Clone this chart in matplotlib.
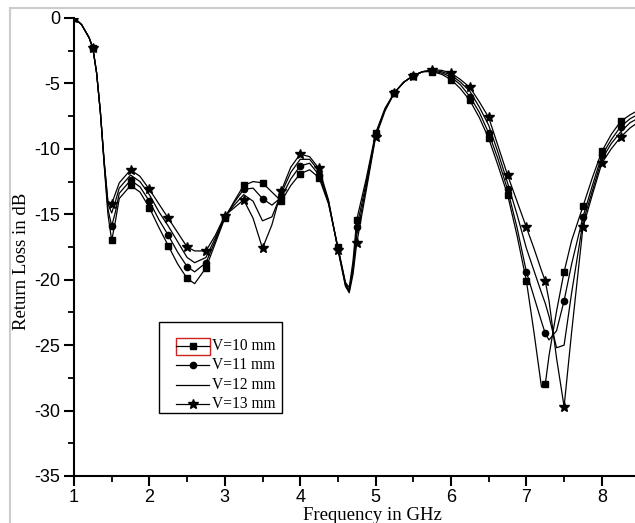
import matplotlib
matplotlib.use("Agg")
import matplotlib.pyplot as plt
from matplotlib.lines import Line2D
from matplotlib.patches import Rectangle
from matplotlib.ticker import MultipleLocator, FixedLocator

plt.rcParams["axes.unicode_minus"] = False

freq = [1.0, 1.1, 1.2, 1.25, 1.3, 1.35, 1.4, 1.45, 1.5, 1.55, 1.6, 1.75, 1.875,
        2.0, 2.125, 2.25, 2.375, 2.5, 2.6, 2.75, 2.875, 3.0, 3.125, 3.25, 3.375,
        3.5, 3.625, 3.75, 3.875, 4.0, 4.125, 4.25, 4.375, 4.5, 4.6, 4.65, 4.7,
        4.75, 4.875, 5.0, 5.125, 5.25, 5.375, 5.5, 5.625, 5.75, 5.875, 6.0,
        6.125, 6.25, 6.375, 6.5, 6.625, 6.75, 6.875, 7.0, 7.1, 7.2, 7.25, 7.3,
        7.4, 7.5, 7.6, 7.75, 7.875, 8.0, 8.125, 8.25, 8.375, 8.5]

v10 = [0, -0.5, -1.5, -2.3, -4.2, -7.2, -11.2, -15.0, -17.0, -15.5, -13.8, -12.8, -13.3,
       -14.5, -16.0, -17.4, -18.8, -19.9, -20.3, -19.1, -17.2, -15.3, -14.0, -12.8, -12.5,
       -12.6, -13.3, -14.0, -12.8, -11.9, -11.6, -12.2, -14.2, -17.5, -20.2, -20.6, -18.6,
       -15.4, -12.3, -8.8, -6.9, -5.7, -4.9, -4.4, -4.1, -4.1, -4.3, -4.7,
       -5.4, -6.3, -7.6, -9.2, -11.3, -13.5, -16.6, -20.1, -24.0, -28.2, -28.0, -25.8,
       -22.4, -19.4, -17.0, -14.4, -12.2, -10.2, -8.9, -7.9, -7.4, -7.0]

v11 = [0, -0.5, -1.5, -2.3, -4.2, -7.2, -11.1, -14.6, -15.9, -14.8, -13.4, -12.4, -12.9,
       -14.0, -15.4, -16.6, -17.9, -19.0, -19.4, -18.7, -17.0, -15.2, -14.1, -13.1, -13.0,
       -13.8, -14.3, -13.7, -12.3, -11.3, -11.1, -12.0, -14.1, -17.6, -20.3, -20.8, -19.0,
       -16.0, -12.6, -8.9, -7.0, -5.7, -4.9, -4.4, -4.1, -4.05, -4.2, -4.5,
       -5.1, -6.0, -7.2, -8.8, -10.8, -13.1, -16.0, -19.4, -21.3, -23.2, -24.1, -24.6,
       -23.9, -21.6, -18.8, -15.2, -12.8, -10.5, -9.3, -8.3, -7.7, -7.3]

v12 = [0, -0.5, -1.5, -2.3, -4.2, -7.2, -11.0, -14.2, -14.9, -14.0, -13.0, -12.0, -12.5,
       -13.5, -14.8, -15.9, -17.1, -18.3, -18.7, -18.3, -16.8, -15.2, -14.3, -13.5, -14.0,
       -15.5, -15.2, -13.4, -11.8, -10.8, -10.8, -11.7, -14.0, -17.6, -20.4, -20.9, -19.3,
       -16.6, -12.9, -9.0, -7.0, -5.7, -4.9, -4.4, -4.1, -4.0, -4.1, -4.35,
       -4.9, -5.6, -6.8, -8.2, -10.3, -12.6, -15.0, -17.6, -19.3, -21.0, -21.8, -22.8,
       -25.2, -25.0, -21.0, -15.6, -13.2, -10.8, -9.6, -8.7, -8.0, -7.6]

v13 = [0, -0.5, -1.5, -2.3, -4.2, -7.2, -10.9, -14.0, -14.2, -13.4, -12.6, -11.6, -12.1,
       -13.1, -14.2, -15.3, -16.4, -17.5, -17.8, -17.8, -16.6, -15.1, -14.5, -13.9, -15.3,
       -17.6, -15.8, -13.2, -11.4, -10.4, -10.6, -11.5, -13.9, -17.7, -20.5, -21.0, -19.6,
       -17.2, -13.2, -9.1, -7.1, -5.7, -4.9, -4.4, -4.1, -3.95, -4.0, -4.2,
       -4.7, -5.3, -6.4, -7.6, -9.8, -12.0, -14.0, -16.0, -17.6, -19.3, -20.1, -21.6,
       -26.0, -29.7, -24.0, -16.0, -13.5, -11.1, -10.0, -9.1, -8.4, -7.9]

xticks = [1, 2, 3, 4, 5, 6, 7, 8]
yticks = [0, -5, -10, -15, -20, -25, -30, -35]
labels = ["V=10 mm", "V=11 mm", "V=12 mm", "V=13 mm"]
markers = ["s", "o", None, "*"]
msizes = [4, 4.5, 0, 7]

W, H = 635, 523
fig = plt.figure(figsize=(W / 100, H / 100), dpi=100)
x0, x1 = 74, 74 + 8 * 75.4
y0, y1 = 476, 18
ax = fig.add_axes([x0 / W, 1 - y0 / H, (x1 - x0) / W, (y0 - y1) / H])

mark_idx = [i for i, f in enumerate(freq) if abs(f * 4 - round(f * 4)) < 1e-9]

for vals, lab, mk, ms in zip([v10, v11, v12, v13], labels, markers, msizes):
    if mk is None:
        ax.plot(freq, vals, color="black", lw=0.9, label=lab)
    else:
        ax.plot(freq, vals, color="black", lw=0.9, marker=mk, ms=ms,
                markevery=mark_idx, label=lab)

ax.set_xlim(1, 9)
ax.set_ylim(-35, 0)
ax.xaxis.set_major_locator(FixedLocator(xticks))
ax.xaxis.set_minor_locator(FixedLocator([x + 0.5 for x in xticks]))
ax.yaxis.set_major_locator(FixedLocator(yticks))
ax.yaxis.set_minor_locator(MultipleLocator(2.5))
ax.spines["top"].set_visible(False)
ax.spines["right"].set_visible(False)
for s in ("left", "bottom"):
    ax.spines[s].set_linewidth(1.5)
ax.tick_params(which="major", direction="out", length=7, width=1.5,
               labelsize=13, pad=3)
ax.tick_params(axis="x", which="major", pad=2)
ax.tick_params(which="minor", direction="out", length=4, width=1.3)
for lbl in ax.get_xticklabels() + ax.get_yticklabels():
    lbl.set_family(["Liberation Sans", "DejaVu Sans"])

fig.text(372 / W, 1 - 515 / H, "Frequency in GHz", ha="center", va="center",
         family=["Liberation Serif", "DejaVu Serif"], fontsize=13.5)
fig.text(22 / W, 1 - 261 / H, "Return Loss in dB", ha="center", va="center",
         rotation=90, family=["Liberation Serif", "DejaVu Serif"], fontsize=13.5)

# legend drawn by hand to match the reference box
fig.patches.append(Rectangle((159 / W, 1 - 413 / H), 123 / W, 91 / H, fill=False,
                             edgecolor="black", lw=1.0, transform=fig.transFigure))
rows = [346, 365, 385, 404]
for lab, mk, ms, yy in zip(labels, markers, msizes, rows):
    yf = 1 - yy / H
    fig.lines.append(Line2D([176 / W, 209 / W], [yf, yf], color="black", lw=0.9,
                            transform=fig.transFigure))
    if mk is not None:
        fig.lines.append(Line2D([192.5 / W], [yf], color="black", marker=mk, ms=ms,
                                lw=0, transform=fig.transFigure))
    fig.text(212 / W, yf, lab, ha="left", va="center",
             family=["Liberation Serif", "DejaVu Serif"], fontsize=11.2)

fig.patches.append(Rectangle((176 / W, 1 - 355 / H), 34 / W, 17 / H, fill=False,
                             edgecolor="#cc2222", lw=1.0, transform=fig.transFigure))

fig.lines.append(Line2D([10 / W, 1], [1 - 8 / H, 1 - 8 / H], color="#cccccc", lw=1.5,
                        transform=fig.transFigure))
fig.lines.append(Line2D([10 / W, 10 / W], [0, 1 - 8 / H], color="#cccccc", lw=1.5,
                        transform=fig.transFigure))

fig.savefig("out.png", dpi=100)
